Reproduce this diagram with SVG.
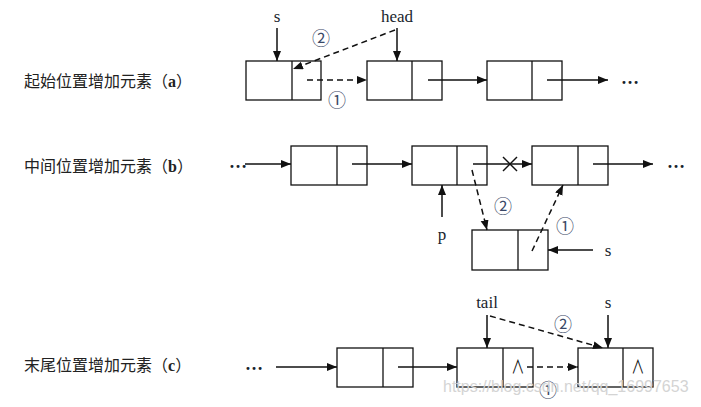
<svg xmlns="http://www.w3.org/2000/svg" width="701" height="407" viewBox="0 0 701 407">
<style>
.box{fill:#fff;stroke:#111;stroke-width:1.3}
.div{stroke:#111;stroke-width:1.3}
.ln{stroke:#111;stroke-width:1.5;fill:none}
.dash{stroke:#111;stroke-width:1.5;fill:none;stroke-dasharray:6 4}
.lbl{font-family:"Liberation Serif","Times New Roman",serif;font-size:17px;fill:#1a1f2e;text-anchor:middle}
.cn{font-family:"Noto Sans CJK SC","Noto Sans",sans-serif;font-size:16px;fill:#222}
.num{font-family:"Noto Sans CJK SC","DejaVu Sans",sans-serif;font-size:18px;fill:#3a4866;text-anchor:middle;dominant-baseline:central}
.dots{font-family:"Liberation Serif",serif;font-size:18px;font-weight:bold;fill:#1a1f2e;text-anchor:middle}
.nil{font-family:"Noto Sans CJK SC","DejaVu Sans",sans-serif;font-size:19px;fill:#111;text-anchor:middle;dominant-baseline:central}
.wm{font-family:"Liberation Sans",Arial,sans-serif;font-size:16px;fill:#d4d4d4}
</style>
<defs>
<marker id="ah" markerUnits="userSpaceOnUse" markerWidth="11" markerHeight="9" refX="10" refY="4" orient="auto">
<path d="M0,0 L10,4 L0,8 z" fill="#111"/>
</marker>
</defs>

<g id="labels">
<text class="cn" x="24" y="87">起始位置增加元素（<tspan font-family="Liberation Serif,serif" font-weight="bold">a</tspan>）</text>
<text class="cn" x="24" y="172">中间位置增加元素（<tspan font-family="Liberation Serif,serif" font-weight="bold">b</tspan>）</text>
<text class="cn" x="24" y="371">末尾位置增加元素（<tspan font-family="Liberation Serif,serif" font-weight="bold">c</tspan>）</text>
</g>

<!-- (a) -->
<g id="a-s-node"><rect class="box" x="246" y="61" width="75" height="39"/><line class="div" x1="292" y1="61" x2="292" y2="100"/></g>
<g id="a-node1"><rect class="box" x="367" y="61" width="75" height="39"/><line class="div" x1="412" y1="61" x2="412" y2="100"/></g>
<g id="a-node2"><rect class="box" x="487" y="61" width="75" height="39"/><line class="div" x1="532" y1="61" x2="532" y2="100"/></g>
<g id="a-texts">
<text class="lbl" x="277" y="22">s</text>
<text class="lbl" x="397" y="22">head</text>
<text class="num" x="321" y="37">②</text>
<text class="num" x="337" y="99">①</text>
<text class="dots" x="630" y="84">…</text>
</g>

<!-- (b) -->
<g id="b-node1"><rect class="box" x="291" y="146" width="76" height="39"/><line class="div" x1="337" y1="146" x2="337" y2="185"/></g>
<g id="b-node-p"><rect class="box" x="412" y="146" width="75" height="39"/><line class="div" x1="457" y1="146" x2="457" y2="185"/></g>
<g id="b-node3"><rect class="box" x="532" y="146" width="76" height="39"/><line class="div" x1="578" y1="146" x2="578" y2="185"/></g>
<g id="b-node-s"><rect class="box" x="472" y="230" width="76" height="40"/><line class="div" x1="518" y1="230" x2="518" y2="270"/></g>
<g id="b-texts">
<text class="dots" x="238" y="168">…</text>
<text class="dots" x="676" y="168">…</text>
<text class="lbl" x="442" y="240">p</text>
<text class="lbl" x="608" y="256">s</text>
<text class="num" x="503" y="205">②</text>
<text class="num" x="565" y="225">①</text>
</g>

<!-- (c) -->
<g id="c-node1"><rect class="box" x="337" y="348" width="76" height="39"/><line class="div" x1="383" y1="348" x2="383" y2="387"/></g>
<g id="c-node-tail"><rect class="box" x="457" y="348" width="76" height="39"/><line class="div" x1="503" y1="348" x2="503" y2="387"/><text class="nil" transform="translate(518 366) scale(0.7 1)">∧</text></g>
<g id="c-node-s"><rect class="box" x="578" y="348" width="75" height="39"/><line class="div" x1="623" y1="348" x2="623" y2="387"/><text class="nil" transform="translate(638 366) scale(0.7 1)">∧</text></g>
<g id="c-texts">
<text class="dots" x="254" y="370">…</text>
<text class="lbl" x="487" y="308">tail</text>
<text class="lbl" x="608" y="308">s</text>
<text class="num" x="563" y="323">②</text>
<text class="num" x="548" y="389">①</text>
</g>

<g id="connectors">
<!-- a -->
<line class="ln" x1="277" y1="28" x2="277" y2="61" marker-end="url(#ah)"/>
<line class="ln" x1="397" y1="28" x2="397" y2="61" marker-end="url(#ah)"/>
<line class="dash" x1="395" y1="30" x2="293" y2="69" marker-end="url(#ah)"/>
<line class="dash" x1="307" y1="80" x2="367" y2="80" marker-end="url(#ah)"/>
<line class="ln" x1="428" y1="80" x2="487" y2="80" marker-end="url(#ah)"/>
<line class="ln" x1="547" y1="80" x2="608" y2="80" marker-end="url(#ah)"/>
<!-- b -->
<line class="ln" x1="245" y1="164" x2="291" y2="164" marker-end="url(#ah)"/>
<line class="ln" x1="352" y1="164" x2="412" y2="164" marker-end="url(#ah)"/>
<line class="ln" x1="473" y1="164" x2="532" y2="164" marker-end="url(#ah)"/>
<line class="ln" x1="503" y1="157" x2="517" y2="171"/>
<line class="ln" x1="503" y1="171" x2="517" y2="157"/>
<line class="ln" x1="593" y1="164" x2="653" y2="164" marker-end="url(#ah)"/>
<line class="ln" x1="442" y1="217" x2="442" y2="185" marker-end="url(#ah)"/>
<line class="dash" x1="472" y1="170" x2="487" y2="230" marker-end="url(#ah)"/>
<line class="dash" x1="532" y1="251" x2="563" y2="185" marker-end="url(#ah)"/>
<line class="ln" x1="593" y1="250" x2="548" y2="250" marker-end="url(#ah)"/>
<!-- c -->
<line class="ln" x1="276" y1="367" x2="337" y2="367" marker-end="url(#ah)"/>
<line class="ln" x1="398" y1="367" x2="457" y2="367" marker-end="url(#ah)"/>
<line class="dash" x1="527" y1="367" x2="578" y2="367" marker-end="url(#ah)"/>
<line class="ln" x1="487" y1="315" x2="487" y2="348" marker-end="url(#ah)"/>
<line class="ln" x1="608" y1="315" x2="608" y2="348" marker-end="url(#ah)"/>
<line class="dash" x1="490" y1="316" x2="603" y2="348" marker-end="url(#ah)"/>
</g>

<text class="wm" x="443" y="392">https://blog.csdn.net/qq_16997653</text>
</svg>
